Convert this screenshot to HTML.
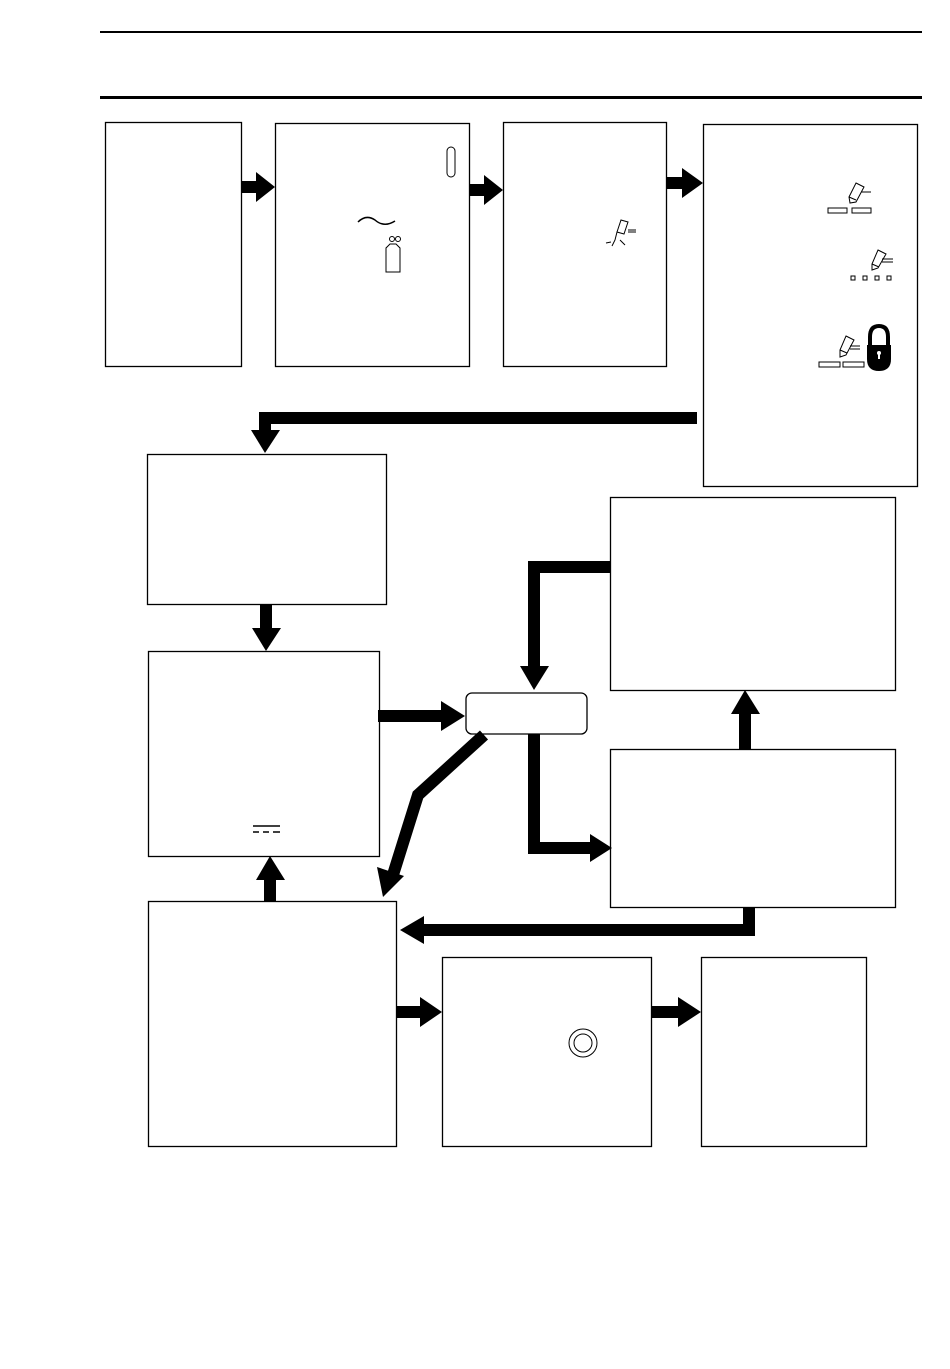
<!DOCTYPE html>
<html><head><style>html,body{margin:0;padding:0;background:#fff}svg{display:block}</style></head>
<body>
<svg width="950" height="1369" viewBox="0 0 950 1369" xmlns="http://www.w3.org/2000/svg">
<g fill="none" stroke="#000">
<line x1="100" y1="32" x2="922" y2="32" stroke-width="2"/>
<line x1="100" y1="97.5" x2="922" y2="97.5" stroke-width="3"/>
<g stroke-width="1.3">
<rect x="105.5" y="122.5" width="136" height="244"/>
<rect x="275.5" y="123.5" width="194" height="243"/>
<rect x="503.5" y="122.5" width="163" height="244"/>
<rect x="703.5" y="124.5" width="214" height="362"/>
<rect x="147.5" y="454.5" width="239" height="150"/>
<rect x="148.5" y="651.5" width="231" height="205"/>
<rect x="148.5" y="901.5" width="248" height="245"/>
<rect x="442.5" y="957.5" width="209" height="189"/>
<rect x="701.5" y="957.5" width="165" height="189"/>
<rect x="610.5" y="497.5" width="285" height="193"/>
<rect x="610.5" y="749.5" width="285" height="158"/>
<rect x="466" y="693" width="121" height="41" rx="6"/>
</g>
<g stroke-width="12" stroke-linejoin="miter">
<line x1="241" y1="187" x2="258" y2="187"/>
<line x1="469" y1="190" x2="486" y2="190"/>
<line x1="666" y1="183" x2="684" y2="183"/>
<polyline points="697,418 265,418 265,433"/>
<line x1="266" y1="604" x2="266" y2="630"/>
<line x1="378" y1="716" x2="443" y2="716"/>
<polyline points="610,567 534,567 534,668"/>
<polyline points="534,734 534,848 592,848"/>
<polyline points="484,735 418,795 392,878"/>
<line x1="745" y1="749" x2="745" y2="712"/>
<polyline points="749,907 749,930 422,930"/>
<line x1="270" y1="901" x2="270" y2="878"/>
<line x1="396" y1="1012" x2="422" y2="1012"/>
<line x1="651" y1="1012" x2="680" y2="1012"/>
</g>
</g>
<g fill="#000">
<polygon points="256,172 275,187 256,202"/>
<polygon points="484,175 503,190 484,205"/>
<polygon points="682,168 703,183 682,198"/>
<polygon points="251,430 280,430 265,453"/>
<polygon points="252,628 281,628 266,651"/>
<polygon points="441,701 465,716 441,731"/>
<polygon points="520,666 549,666 534,690"/>
<polygon points="590,834 612,848 590,862"/>
<polygon points="377,867 404,876 383,897"/>
<polygon points="731,714 760,714 745,690"/>
<polygon points="424,916 400,930 424,944"/>
<polygon points="256,880 285,880 270,856"/>
<polygon points="420,997 442,1012 420,1027"/>
<polygon points="678,997 701,1012 678,1027"/>
</g>
<!-- icons -->
<g fill="none" stroke="#000" stroke-width="1">
<rect x="447" y="147" width="8" height="30" rx="4"/>
<path d="M358 222 Q366 214 375 220 Q384 228 395 221" stroke-width="1.5"/>
<path d="M386 248 L386 272 L400 272 L400 248 L396 244 L390 244 Z"/>
<circle cx="392" cy="239" r="2.5"/><circle cx="398" cy="239" r="2.5"/>
<path d="M621 220 L628 222 L624 234 L617 232 Z M617 232 L615 240 L612 246 M620 240 L625 245 M611 242 L606 243 M628 230 L636 230 M628 232 L636 232"/>
<rect x="828" y="208" width="19" height="5"/><rect x="852" y="208" width="19" height="5"/>
<path d="M856 183 L864 187 L856 202 L850 203 L849 197 Z M849 197 L856 200 M861 192 L871 192"/>
<rect x="851" y="276" width="4" height="4"/><rect x="863" y="276" width="4" height="4"/><rect x="875" y="276" width="4" height="4"/><rect x="887" y="276" width="4" height="4"/>
<path d="M878 250 L886 254 L878 268 L872 270 L872 264 Z M872 264 L879 267 M882 259 L893 259 M882 262 L893 262"/>
<rect x="819" y="362" width="21" height="5"/><rect x="843" y="362" width="21" height="5"/>
<path d="M846 336 L854 340 L846 355 L840 357 L840 350 Z M840 350 L847 353 M850 346 L860 346 M850 349 L860 349"/>
<path d="M870 345 L870 337 Q870 326 879 326 Q888 326 888 337 L888 345" stroke-width="4"/>
<circle cx="583" cy="1043" r="14"/><circle cx="583" cy="1043" r="9"/>
<line x1="253" y1="826" x2="280" y2="826" stroke-width="1.5"/>
<path d="M253 832 h6 M263 832 h6 M273 832 h7" stroke-width="1.5"/>
</g>
<path d="M867 345 h24 v14 q0 12 -12 12 q-12 0 -12 -12 z" fill="#000"/>
<circle cx="879" cy="353" r="2" fill="#fff"/><rect x="878" y="353" width="2" height="6" fill="#fff"/>
</svg>
</body></html>
